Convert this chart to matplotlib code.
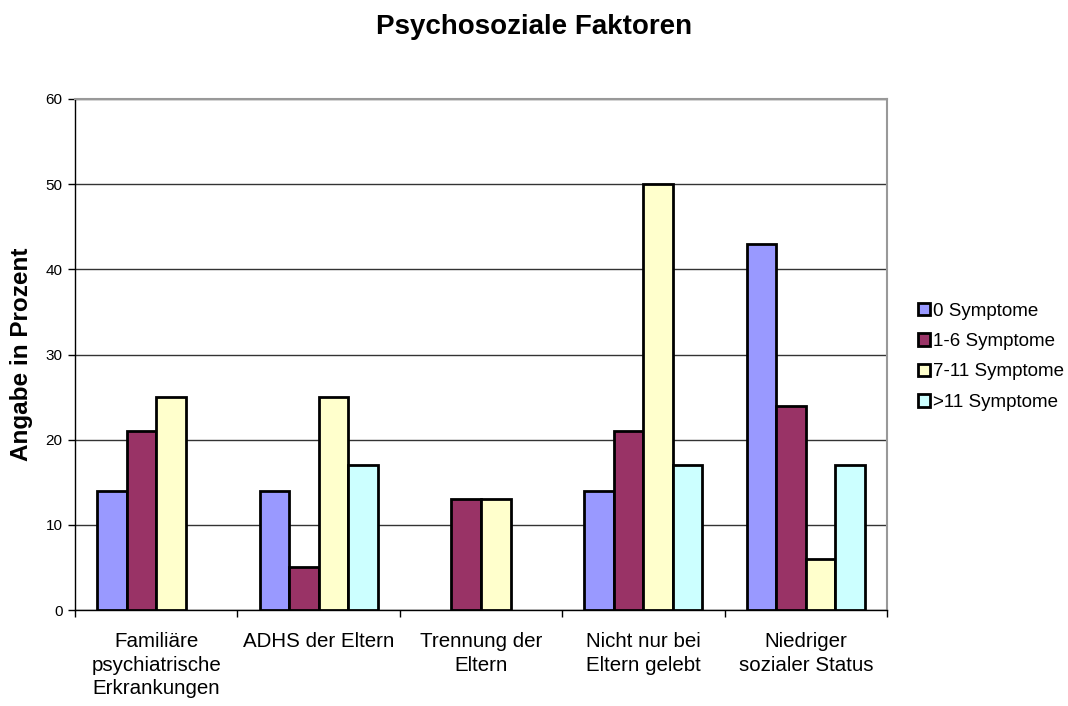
import matplotlib
matplotlib.use("Agg")
import matplotlib.pyplot as plt
import numpy as np

categories = ["Familiäre\npsychiatrische\nErkrankungen", "ADHS der Eltern",
              "Trennung der\nEltern", "Nicht nur bei\nEltern gelebt",
              "Niedriger\nsozialer Status"]
series_names = ["0 Symptome", "1-6 Symptome", "7-11 Symptome", ">11 Symptome"]
values_0 = [14, 14, 0, 14, 43]
values_1_6 = [21, 5, 13, 21, 24]
values_7_11 = [25, 25, 13, 50, 6]
values_11plus = [0, 17, 0, 17, 17]
colors = ["#9999FF", "#993366", "#FFFFCC", "#CCFFFF"]
y_ticks = [0, 10, 20, 30, 40, 50, 60]

plt.rcParams['font.family'] = ['Liberation Sans', 'DejaVu Sans']

fig = plt.figure(figsize=(10.68, 7.06), dpi=100)
ax = fig.add_axes([75/1068, 96/706, 812/1068, 511/706])

series = [values_0, values_1_6, values_7_11, values_11plus]
n = len(series)
bw = 1 / (n + 1.5)
x = np.arange(len(categories))
for i, (vals, col, name) in enumerate(zip(series, colors, series_names)):
    offs = (i - (n - 1) / 2) * bw
    # empty categories get no outline so nothing shows on the baseline
    lws = [2 if v > 0 else 0 for v in vals]
    ax.bar(x + offs, vals, width=bw, color=col, edgecolor="black",
           linewidth=lws, label=name, zorder=3)

ax.set_xlim(-0.5, len(categories) - 0.5)
ax.set_ylim(0, 60)
ax.set_yticks(y_ticks)
ax.tick_params(axis='y', labelsize=11, length=5, width=1, direction='out', pad=4)
ax.yaxis.grid(True, color="#333333", linewidth=1, zorder=0)

ax.set_xticks(x)
ax.set_xticklabels(categories, fontsize=14.8, linespacing=1.3)
ax.tick_params(axis='x', length=0, pad=16)
ax.set_xticks(np.arange(len(categories) + 1) - 0.5, minor=True)
ax.tick_params(axis='x', which='minor', length=5, width=1, direction='out')

for s in ['top', 'right']:
    ax.spines[s].set_color("#999999")
    ax.spines[s].set_linewidth(1.5)
for s in ['left', 'bottom']:
    ax.spines[s].set_color("black")
    ax.spines[s].set_linewidth(1)

ax.set_ylabel("Angabe in Prozent", fontsize=17.5, fontweight='bold', labelpad=9)
fig.text(0.5, 1 - 27/706, "Psychosoziale Faktoren", ha='center', va='center',
         fontsize=20, fontweight='bold')

leg = fig.legend(loc='upper left', bbox_to_anchor=(910/1068, 1 - 295/706),
                 frameon=False, fontsize=13.5, handlelength=0.65, handleheight=0.65,
                 handletextpad=0.2, labelspacing=0.72, borderaxespad=0)
for h in leg.legend_handles:
    h.set_linewidth(2)

fig.savefig("out.png", dpi=100)
